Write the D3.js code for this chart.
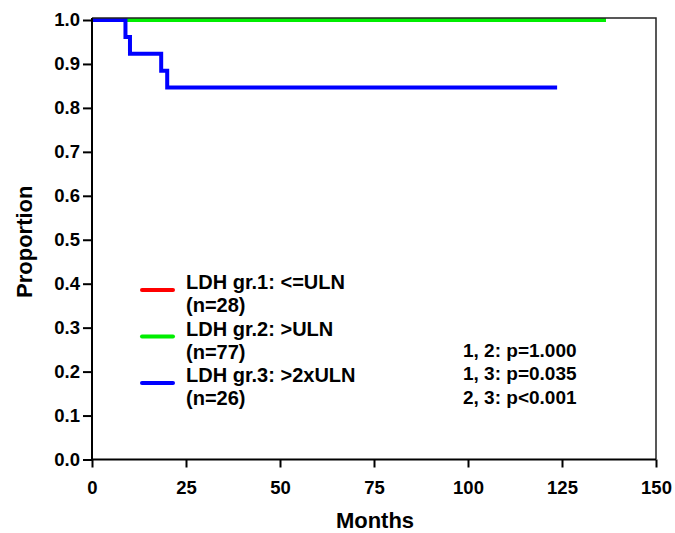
<!DOCTYPE html>
<html>
<head>
<meta charset="utf-8">
<script src="https://cdn.jsdelivr.net/npm/d3@7"></script>
<style>
  html, body { margin: 0; padding: 0; background: #fff; }
  svg text { font-family: "Liberation Sans", Arial, sans-serif; font-weight: bold; fill: #000; }
</style>
</head>
<body>
<svg id="chart" width="675" height="533"></svg>
<script>
// Kaplan–Meier step data, by LDH group (time in months, survival proportion)
const g1Times = [0, 118];
const g1Surv  = [1, 1];
const g2Times = [0, 136.7];
const g2Surv  = [1, 1];
const g3Times = [0, 8.9, 10.1, 18.4, 20.0, 123.7];
const g3Surv  = [1, 0.9615, 0.9231, 0.8846, 0.8462, 0.8462];

const groupNames  = ["LDH gr.1: <=ULN", "LDH gr.2: >ULN", "LDH gr.3: >2xULN"];
const groupCounts = ["(n=28)", "(n=77)", "(n=26)"];
const groupColors = ["#ff0000", "#00ee00", "#0000ff"];
const pValues = ["1, 2: p=1.000", "1, 3: p=0.035", "2, 3: p<0.001"];

const xTicks = [0, 25, 50, 75, 100, 125, 150];
const yTicks = [0, 0.1, 0.2, 0.3, 0.4, 0.5, 0.6, 0.7, 0.8, 0.9, 1.0];

const svg = d3.select("#chart");
const mLeft = 92, mRight = 656, mTop = 20, mBottom = 459.5;

const x = d3.scaleLinear().domain([0, 150]).range([mLeft, mRight]);
const y = d3.scaleLinear().domain([0, 1]).range([mBottom, mTop]);

// curves
const line = d3.line()
  .x(d => x(d[0]))
  .y(d => y(d[1]))
  .curve(d3.curveStepAfter);

const series = [
  { t: g1Times, s: g1Surv, c: groupColors[0] },
  { t: g2Times, s: g2Surv, c: groupColors[1] },
  { t: g3Times, s: g3Surv, c: groupColors[2] }
];
series.forEach(sr => {
  svg.append("path")
    .datum(sr.t.map((t, i) => [t, sr.s[i]]))
    .attr("d", line)
    .attr("fill", "none")
    .attr("stroke", sr.c)
    .attr("stroke-width", 4);
});

// frame (top and right)
svg.append("path")
  .attr("d", `M${mLeft},${mTop - 2}H${mRight}V${mBottom}`)
  .attr("fill", "none")
  .attr("stroke", "#222")
  .attr("stroke-width", 1.5);

// axes
const xAxis = d3.axisBottom(x).tickValues(xTicks).tickSize(8).tickPadding(13).tickFormat(d3.format("d"));
const yAxis = d3.axisLeft(y).tickValues(yTicks).tickSize(9).tickPadding(3).tickFormat(d3.format(".1f"));

const gx = svg.append("g").attr("transform", `translate(0,${mBottom})`).call(xAxis);
const gy = svg.append("g").attr("transform", `translate(${mLeft},0)`).call(yAxis);
[gx, gy].forEach(g => {
  g.select(".domain").attr("stroke", "#000").attr("stroke-width", 2);
  g.selectAll(".tick line").attr("stroke", "#000").attr("stroke-width", 2);
  g.selectAll(".tick text").style("font-size", "18.5px").style("font-family", "'Liberation Sans', Arial, sans-serif").style("font-weight", "bold");
});
gy.select(".domain").attr("d", `M0,${mTop - 2}V${mBottom}`);
gx.select(".domain").attr("d", `M${mLeft},0H${mRight}`);

// axis titles
svg.append("text")
  .attr("x", (mLeft + mRight) / 2 + 1).attr("y", 528)
  .attr("text-anchor", "middle")
  .style("font-size", "22px")
  .text("Months");
svg.append("text")
  .attr("transform", `translate(32,${(mTop + mBottom) / 2 + 2}) rotate(-90)`)
  .attr("text-anchor", "middle")
  .style("font-size", "22px")
  .text("Proportion");

// legend
const legY = [281, 327.5, 374];
groupNames.forEach((name, i) => {
  svg.append("line")
    .attr("x1", 142).attr("x2", 173)
    .attr("y1", legY[i] + 9).attr("y2", legY[i] + 9)
    .attr("stroke", groupColors[i]).attr("stroke-width", 4)
    .attr("stroke-linecap", "round");
  svg.append("text")
    .attr("x", 186).attr("y", legY[i] + 8)
    .style("font-size", "20px")
    .text(name);
  svg.append("text")
    .attr("x", 186).attr("y", legY[i] + 31)
    .style("font-size", "20px")
    .text(groupCounts[i]);
});

// pairwise p-values
pValues.forEach((p, i) => {
  svg.append("text")
    .attr("x", 463).attr("y", 357 + i * 23.3)
    .style("font-size", "19px")
    .text(p);
});
</script>
</body>
</html>
